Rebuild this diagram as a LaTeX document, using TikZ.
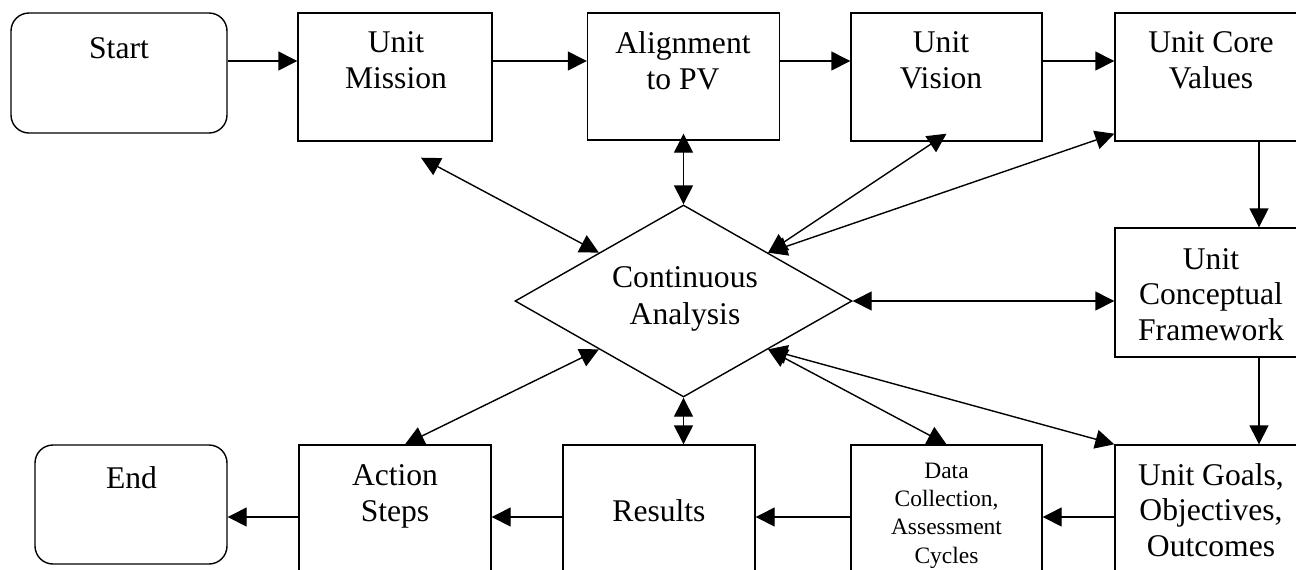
\documentclass[tikz,border=0pt]{standalone}
\usepackage{fontspec}
\setmainfont{Liberation Serif}
\usetikzlibrary{shapes.geometric,arrows.meta,calc}
\begin{document}
\begin{tikzpicture}[x=0.5pt,y=-0.5pt,
  box/.style={draw, line width=0.7pt, inner sep=0pt, minimum width=96pt, minimum height=64pt},
  rbox/.style={box, rounded corners=9pt},
  txt/.style={align=center, inner sep=0pt, anchor=base, font=\fontsize{15.8pt}{17.75pt}\selectfont},
  stxt/.style={txt, font=\fontsize{11.75pt}{14.15pt}\selectfont},
  >={Triangle[length=9.5pt,width=9.5pt]},
  arr/.style={->, line width=0.7pt},
  darr/.style={<->, line width=0.7pt}]
\useasboundingbox (0,0) rectangle (1296,569);
\fill[white] (0,0) rectangle (1296,569);
% boxes
\node[rbox, minimum width=108pt, minimum height=60pt] (start) at (119,73) {};
\node[box, minimum width=97pt] (mission) at (395,77) {};
\node[box, minimum height=63.5pt] (align) at (683.5,76.5) {};
\node[box, minimum width=95.5pt] (vision) at (946.5,77) {};
\node[box, minimum width=96.5pt] (core) at (1211.5,77) {};
\node[box, minimum width=96.5pt, minimum height=64.5pt] (framework) at (1211.5,292.5) {};
\node[box, minimum width=96.5pt, minimum height=68pt] (goals) at (1211.5,513) {};
\node[box, minimum width=95.5pt, minimum height=68pt] (data) at (946.5,513) {};
\node[box, minimum height=68pt] (results) at (659,513) {};
\node[box, minimum height=68pt] (action) at (395,513) {};
\node[rbox, minimum height=59.5pt] (end) at (131,504.5) {};
\node[draw, diamond, line width=0.7pt, inner sep=0pt, minimum width=168.5pt, minimum height=96pt] (dia) at (683.5,301) {};
% texts (anchor base = baseline of last line)
\node[txt] (tstart) at (119,58) {Start};
\node[txt] (tmission) at (396,88) {Unit\\Mission};
\node[txt] (talign) at (683,89) {Alignment\\to PV};
\node[txt] (tvision) at (941,88) {Unit\\Vision};
\node[txt] (tcore) at (1211,88) {Unit Core\\Values};
\node[txt] (tframework) at (1211,340) {Unit\\Conceptual\\Framework};
\node[txt] (tgoals) at (1211,556) {Unit Goals,\\Objectives,\\Outcomes};
\node[stxt] (tdata) at (946.5,563) {Data\\Collection,\\Assessment\\Cycles};
\node[txt] (tresults) at (659,521) {Results};
\node[txt] (taction) at (395,521) {Action\\Steps};
\node[txt] (tend) at (131.5,488) {End};
\node[txt, font=\fontsize{15.8pt}{18.5pt}\selectfont] (tdia) at (685,324) {Continuous\\Analysis};
% helper coordinates
\coordinate (ytop) at (0,61);
\coordinate (ybot) at (0,517);
\coordinate (xr) at (1259,0);
% flow arrows
\draw[arr] (start.east |- ytop) -- (mission.west |- ytop);
\draw[arr] (mission.east |- ytop) -- (align.west |- ytop);
\draw[arr] (align.east |- ytop) -- (vision.west |- ytop);
\draw[arr] (vision.east |- ytop) -- (core.west |- ytop);
\draw[arr] (core.south -| xr) -- (framework.north -| xr);
\draw[arr] (framework.south -| xr) -- (goals.north -| xr);
\draw[arr] (goals.west |- ybot) -- (data.east |- ybot);
\draw[arr] (data.west |- ybot) -- (results.east |- ybot);
\draw[arr] (results.west |- ybot) -- (action.east |- ybot);
\draw[arr] (action.west |- ybot) -- (end.east |- ybot);
% analysis arrows
\draw[darr] ($(mission.south)+(26,16)$) -- (dia.north west);
\draw[darr] ($(align.south)+(0,-7)$) -- (dia.north);
\draw[darr] (dia.north east) -- ($(vision.south)+(0,-8)$);
\draw[darr] (dia.north east) -- ($(core.south west)+(0,-8)$);
\draw[darr] (dia.east) -- (dia.east -| framework.west);
\draw[darr] (dia.south) -- (dia.south |- results.north);
\draw[darr] (dia.south west) -- ($(action.north)+(10,0)$);
\draw[darr] (dia.south east) -- (data.north);
\draw[darr] (dia.south east) -- (goals.north west);
\end{tikzpicture}
\end{document}
